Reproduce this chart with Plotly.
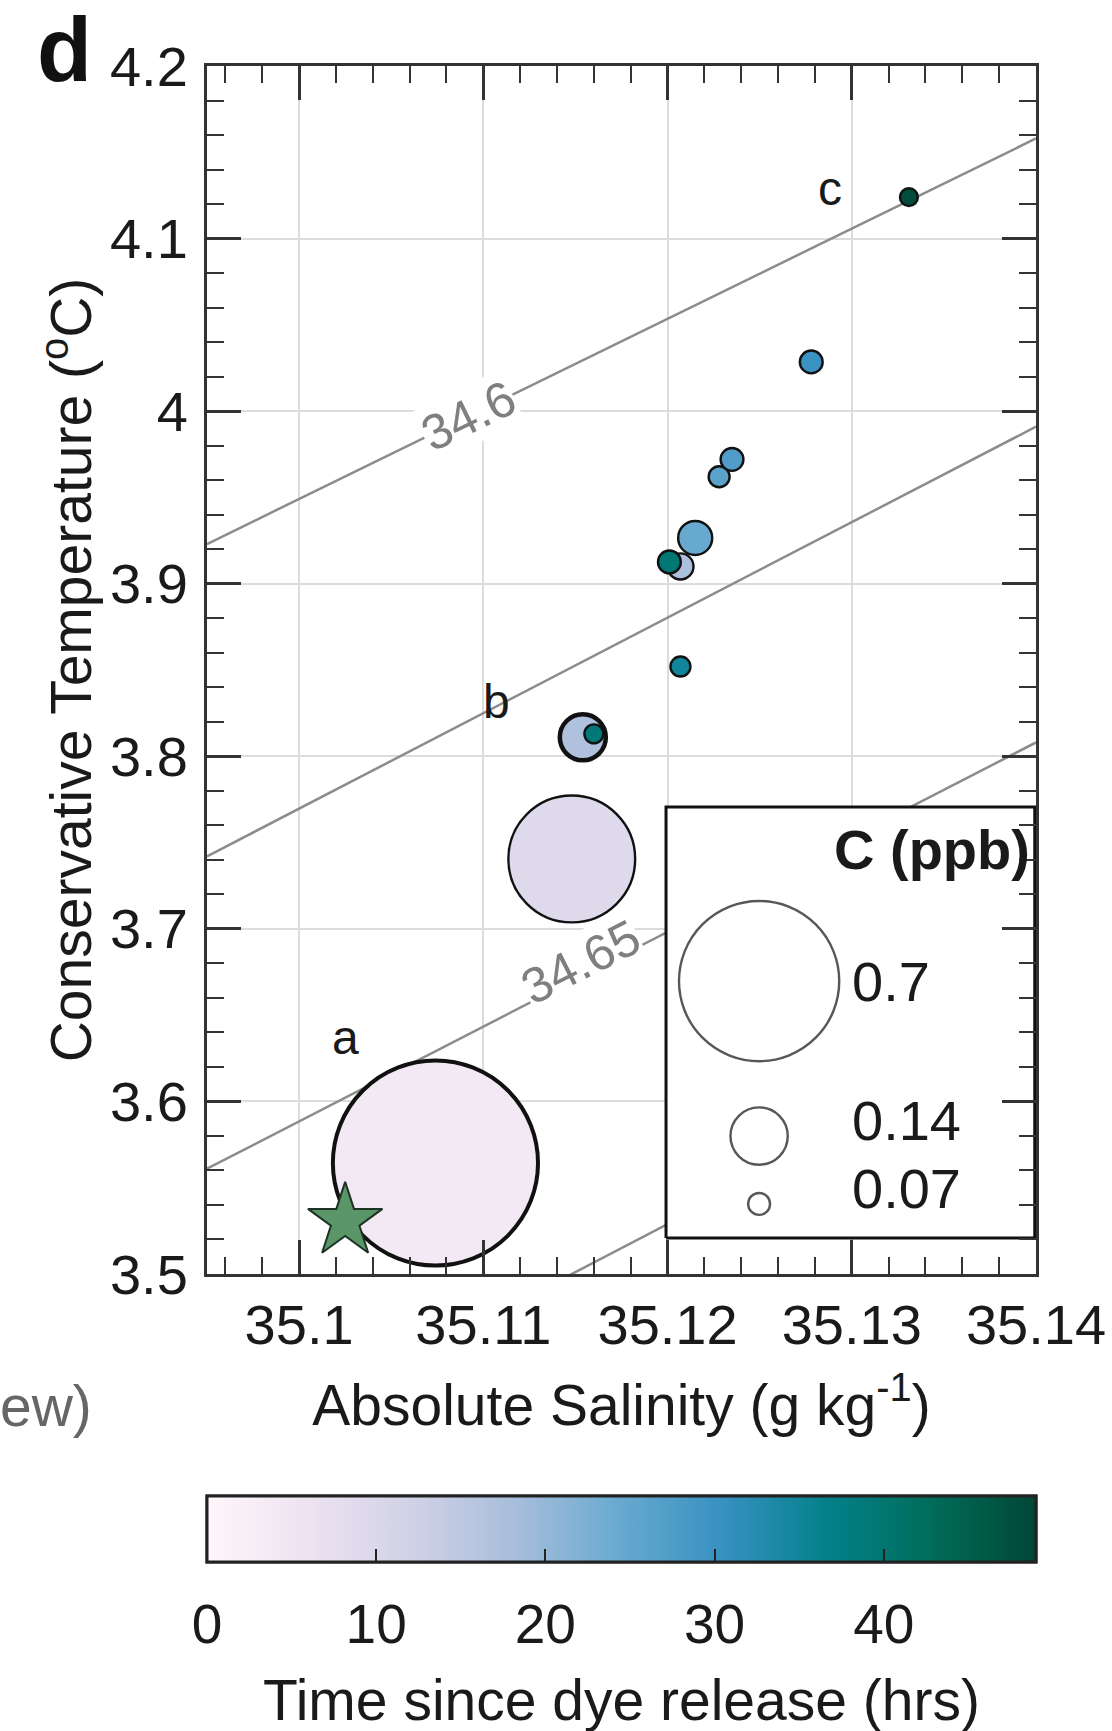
import plotly.graph_objects as go

# ---- Station T–S data (chronological order) ----
salinity = [35.1074, 35.1148, 35.1154, 35.1207, 35.1215, 35.1228,
            35.1235, 35.1278, 35.1207, 35.1160, 35.1201, 35.1331]
temperature = [3.5643, 3.7405, 3.8110, 3.9100, 3.9265, 3.9620,
               3.9720, 4.0285, 3.8520, 3.8130, 3.9126, 4.1240]
dye_ppb = [1.11, 0.46, 0.111, 0.075, 0.087, 0.069,
           0.071, 0.071, 0.068, 0.067, 0.071, 0.066]
hours = [4, 9, 17, 17.5, 24.5, 26, 27.5, 30, 35, 39, 39.5, 48]
outline_w = [4, 2.4, 4.5, 2.4, 2.4, 2.4, 2.4, 2.4, 2.4, 2.4, 2.4, 2.4]

# dye release point
release_S = [35.1025]
release_T = [3.5307]

# station labels
station_names = ["a", "b", "c"]
station_S = [35.1025, 35.1107, 35.1288]
station_T = [3.637, 3.8315, 4.129]

# isopycnals (end points at the axis limits)
iso_levels = [34.6, 34.625, 34.65, 34.675]
iso_S = [35.095, 35.14]
iso_T_left = [3.923, 3.742, 3.561, 3.390]
iso_T_right = [4.158, 3.991, 3.808, 3.640]
iso_label_text = ["34.6", "34.65"]
iso_label_S = [35.1092, 35.1153]
iso_label_T = [3.997, 3.681]

# size key
key_ppb = [0.7, 0.14, 0.07]
key_labels = ["0.7", "0.14", "0.07"]

# axes
x_ticks = [35.10, 35.11, 35.12, 35.13, 35.14]
x_ticktext = ["35.1", "35.11", "35.12", "35.13", "35.14"]
y_ticks = [3.5, 3.6, 3.7, 3.8, 3.9, 4.0, 4.1, 4.2]
y_ticktext = ["3.5", "3.6", "3.7", "3.8", "3.9", "4", "4.1", "4.2"]
cbar_ticks = [0, 10, 20, 30, 40]

SIZE_K, SIZE_C0 = 40000.0, 0.058


def marker_px(c):
    return (SIZE_K * (c - SIZE_C0)) ** 0.5


FONT = "Liberation Sans, Arial, Helvetica, sans-serif"
INK = "#1a1a1a"
W, H = 1112, 1731
L, R, T, B = 207, 76, 66, 457
PW, PH = W - L - R, H - T - B

fig = go.Figure()

cbar_common = dict(
    orientation="h",
    thickness=66, thicknessmode="pixels",
    len=1, lenmode="fraction",
    x=0.5, xanchor="center",
    y=(H - 1496) / H, yref="container", yanchor="top",
    xpad=0, ypad=0,
    outlinewidth=3, outlinecolor="#222222",
    tickvals=cbar_ticks,
)

# colour-bar labels (bar underneath, labels pushed clear of the bar)
fig.add_trace(go.Scatter(
    x=salinity, y=temperature, mode="markers", showlegend=False,
    hoverinfo="skip",
    marker=dict(size=1, opacity=0, color=hours, colorscale="PuBuGn",
                cmin=0, cmax=49, showscale=True,
                colorbar=dict(ticks="outside", ticklen=14,
                              tickcolor="rgba(0,0,0,0)",
                              tickfont=dict(family=FONT, size=55, color=INK),
                              **cbar_common)),
))

# isopycnal lines
for lvl, tl, tr in zip(iso_levels, iso_T_left, iso_T_right):
    fig.add_trace(go.Scatter(
        x=iso_S, y=[tl, tr], mode="lines",
        line=dict(color="#8c8c8c", width=2.5),
        hoverinfo="skip", showlegend=False, name=f"{lvl}"))

# stations coloured by time, sized by dye concentration
fig.add_trace(go.Scatter(
    x=salinity, y=temperature, mode="markers", showlegend=False,
    marker=dict(
        size=[marker_px(c) for c in dye_ppb],
        color=hours, colorscale="PuBuGn", cmin=0, cmax=49,
        opacity=1,
        line=dict(color="#111111", width=outline_w),
        showscale=True,
        colorbar=dict(ticks="inside", ticklen=14, tickwidth=2,
                      tickcolor="#222222", showticklabels=False,
                      **cbar_common),
    ),
))

# release point
fig.add_trace(go.Scatter(
    x=release_S, y=release_T, mode="markers", showlegend=False,
    marker=dict(symbol="star", size=56, color="#5b9668",
                line=dict(color="#1f3324", width=2)),
))

# size key box (drawn on an overlay axis spanning the plot area, 0..1)
box_x = [0.5537, 0.9985, 0.9985, 0.5537, 0.5537]
box_y = [0.0298, 0.0298, 0.3866, 0.3866, 0.0298]
fig.add_trace(go.Scatter(
    x=box_x, y=box_y, xaxis="x2", yaxis="y2", mode="lines",
    fill="toself", fillcolor="white",
    line=dict(color="#111111", width=3),
    hoverinfo="skip", showlegend=False))
key_x = [0.666, 0.666, 0.666]
key_y = [0.2425, 0.1142, 0.058]
fig.add_trace(go.Scatter(
    x=key_x, y=key_y, xaxis="x2", yaxis="y2", mode="markers",
    marker=dict(size=[marker_px(c) for c in key_ppb], color="white",
                line=dict(color="#111111", width=2.4)),
    hoverinfo="skip", showlegend=False))

ann = []
for txt, yy in zip(key_labels, [0.2425, 0.1267, 0.0704]):
    ann.append(dict(text=txt, x=0.7756, y=yy, xref="x2", yref="y2",
                    xanchor="left", yanchor="middle", showarrow=False,
                    font=dict(family=FONT, size=56, color=INK)))
ann.append(dict(text="<b>C (ppb)</b>", x=0.995, y=0.351, xref="x2", yref="y2",
                xanchor="right", yanchor="middle", showarrow=False,
                font=dict(family=FONT, size=56, color=INK)))

for txt, sx, ty in zip(station_names, station_S, station_T):
    ann.append(dict(text=txt, x=sx, y=ty, xref="x", yref="y",
                    showarrow=False,
                    font=dict(family=FONT, size=48, color=INK)))

for txt, sx, ty, ang in zip(iso_label_text, iso_label_S, iso_label_T, [-26, -27]):
    ann.append(dict(text=txt, x=sx, y=ty, xref="x", yref="y",
                    showarrow=False, textangle=ang, bgcolor="white",
                    borderpad=0,
                    font=dict(family=FONT, size=50, color="#7f7f7f")))

ann.append(dict(text="<b>d</b>", x=(64 - L) / PW, y=(H - B - 50) / PH,
                xref="paper", yref="paper", xanchor="center", yanchor="middle",
                showarrow=False,
                font=dict(family=FONT, size=90, color="#111111")))
ann.append(dict(text="ew)", x=(94 - L) / PW, y=(H - B - 1406) / PH,
                xref="paper", yref="paper", xanchor="right", yanchor="middle",
                showarrow=False,
                font=dict(family=FONT, size=57, color="#666666")))
ann.append(dict(text="Time since dye release (hrs)", x=0.5,
                y=(H - B - 1700) / PH,
                xref="paper", yref="paper", xanchor="center", yanchor="middle",
                showarrow=False,
                font=dict(family=FONT, size=57, color=INK)))

axis_common = dict(
    showline=True, linecolor="#333333", linewidth=3, mirror="ticks",
    ticks="inside", ticklen=34, tickwidth=2.5, tickcolor="#333333",
    showgrid=True, gridcolor="#dcdcdc", gridwidth=2, zeroline=False,
    tickfont=dict(family=FONT, size=56, color=INK),
)

fig.update_layout(
    width=W, height=H,
    margin=dict(l=L, r=R, t=T, b=B, autoexpand=False),
    paper_bgcolor="white", plot_bgcolor="white",
    font=dict(family=FONT, color=INK),
    xaxis=dict(
        range=[35.095, 35.14], tickvals=x_ticks, ticktext=x_ticktext,
        ticklabelstandoff=0,
        minor=dict(ticks="inside", ticklen=17, tickwidth=2,
                   tickcolor="#333333", dtick=0.002, showgrid=False),
        title=dict(text="Absolute Salinity (g kg<sup>-1</sup>)", standoff=30,
                   font=dict(family=FONT, size=57, color=INK)),
        **axis_common),
    yaxis=dict(
        range=[3.5, 4.2], tickvals=y_ticks, ticktext=y_ticktext,
        ticklabelstandoff=5,
        minor=dict(ticks="inside", ticklen=17, tickwidth=2,
                   tickcolor="#333333", dtick=0.02, showgrid=False),
        title=dict(text="Conservative Temperature (<sup>o</sup>C)", standoff=0,
                   font=dict(family=FONT, size=57, color=INK)),
        **axis_common),
    xaxis2=dict(overlaying="x", range=[0, 1], visible=False, fixedrange=True),
    yaxis2=dict(overlaying="y", anchor="x2", range=[0, 1], visible=False,
                fixedrange=True),
    annotations=ann,
    showlegend=False,
)

fig.write_html("out.html")
